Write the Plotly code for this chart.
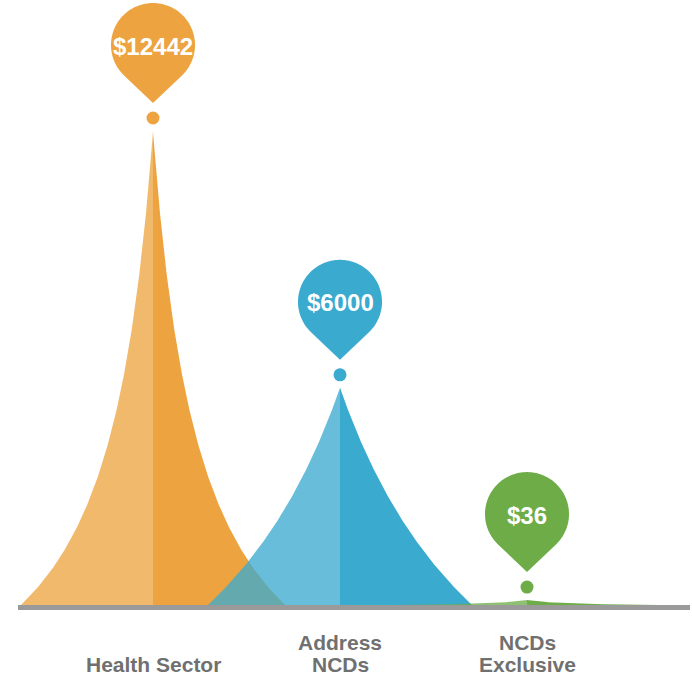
import numpy as np
import plotly.graph_objects as go

# ---------------- data ----------------
categories = ["Health Sector", "Address NCDs", "NCDs Exclusive"]
category_lines = [["Health Sector"], ["Address", "NCDs"], ["NCDs", "Exclusive"]]
cost_values = [12442, 6000, 36]
cost_labels = ["$12442", "$6000", "$36"]
peak_heights = [12442, 5700, 130]   # drawn peak heights

# ---------------- style ----------------
colors = ["#EDA440", "#3AAACF", "#6DAC47"]
curvature = [2.75, 0.75, 3.0]
HALF_W = 0.706
LEFT_ALPHA = 0.77
TEXT_GRAY = "#707070"

W, H = 692, 675
BASE_PX = 605            # pixel row of the peaks' base
CENTER0_PX = 153         # pixel column of first category
STEP_PX = 187            # pixels between categories


def rgba(hexc, a):
    hexc = hexc.lstrip("#")
    r, g, b = int(hexc[0:2], 16), int(hexc[2:4], 16), int(hexc[4:6], 16)
    return f"rgba({r},{g},{b},{a})"


fig = go.Figure()

hs = np.linspace(0, 1, 200)
for i, (h, c, col) in enumerate(zip(peak_heights, curvature, colors)):
    xc = i
    w = (1 - hs) / (1 + c * hs) * HALF_W
    ys = hs * h
    xl = np.concatenate([[xc], xc - w, [xc]])
    yl = np.concatenate([[0], ys, [0]])
    fig.add_trace(go.Scatter(x=xl, y=yl, fill="toself", mode="lines",
                             line=dict(width=0), fillcolor=rgba(col, LEFT_ALPHA),
                             hoverinfo="skip", showlegend=False))
    xr = np.concatenate([[xc], xc + w, [xc]])
    fig.add_trace(go.Scatter(x=xr, y=yl, fill="toself", mode="lines",
                             line=dict(width=0), fillcolor=col,
                             hoverinfo="skip", showlegend=False))

# pin geometry (pixels)
TIP_OFF = 28
PIN_D = 58
PIN_R = 42
DOT_OFF = 13
DOT_R = 6.5

alpha = np.degrees(np.arccos(PIN_R / PIN_D))
angs = np.radians(np.linspace(-90 + alpha, 270 - alpha, 120))
cy = TIP_OFF + PIN_D
pts = [(0, TIP_OFF)] + [(PIN_R * np.cos(a), cy + PIN_R * np.sin(a)) for a in angs]
pin_path = "M " + " L ".join(f"{x:.2f},{y:.2f}" for x, y in pts) + " Z"

shapes = []
annotations = []
for i, (h, col, lab) in enumerate(zip(peak_heights, colors, cost_labels)):
    shapes.append(dict(type="path", path=pin_path, xref="x", yref="y",
                       xsizemode="pixel", ysizemode="pixel", xanchor=i, yanchor=h,
                       fillcolor=col, line=dict(width=0), layer="above"))
    shapes.append(dict(type="circle", xref="x", yref="y",
                       xsizemode="pixel", ysizemode="pixel", xanchor=i, yanchor=h,
                       x0=-DOT_R, x1=DOT_R, y0=DOT_OFF - DOT_R, y1=DOT_OFF + DOT_R,
                       fillcolor=col, line=dict(width=0), layer="above"))
    annotations.append(dict(x=i, y=h, xref="x", yref="y", text=lab, showarrow=False,
                            yshift=cy - 1, xanchor="center", yanchor="middle",
                            font=dict(family="Liberation Sans, Arial", size=24,
                                      color="white", weight="bold")))

# baseline
shapes.append(dict(type="line", xref="paper", yref="y", ysizemode="pixel", yanchor=0,
                   x0=18 / W, x1=690 / W, y0=-2.5, y1=-2.5,
                   line=dict(color="#9A9A9A", width=5), layer="above"))

# category labels
for i, lines in enumerate(category_lines):
    n = len(lines)
    for j, ln in enumerate(lines):
        shift = -59 + (n - 1 - j) * 22
        annotations.append(dict(x=i, y=0, xref="x", yref="y", text=ln, showarrow=False,
                                yshift=shift, xanchor="center", yanchor="middle",
                                font=dict(family="Liberation Sans, Arial", size=21,
                                          color=TEXT_GRAY, weight="bold")))

px_per_unit = 474 / 12442
fig.update_layout(
    width=W, height=H,
    margin=dict(l=0, r=0, t=0, b=0),
    paper_bgcolor="white", plot_bgcolor="white",
    xaxis=dict(range=[-CENTER0_PX / STEP_PX, (W - CENTER0_PX) / STEP_PX],
               visible=False, fixedrange=True),
    yaxis=dict(range=[-(H - BASE_PX) / px_per_unit, BASE_PX / px_per_unit],
               visible=False, fixedrange=True),
    shapes=shapes, annotations=annotations, showlegend=False,
)

fig.write_html("out.html", config={"displayModeBar": False},
               post_script="document.body.style.margin='0';")
